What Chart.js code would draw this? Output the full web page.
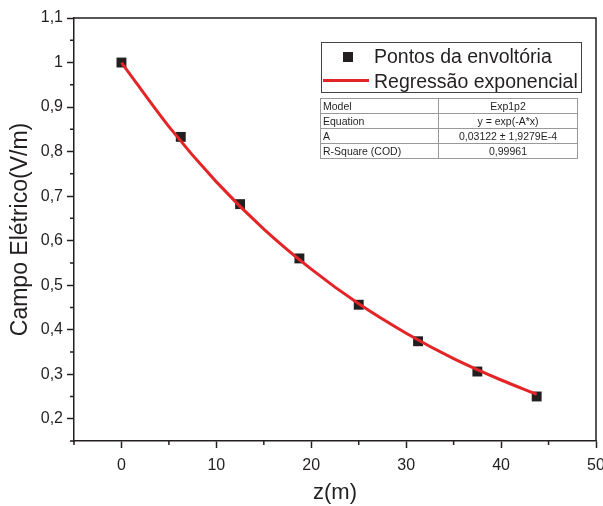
<!DOCTYPE html>
<html>
<head>
<meta charset="utf-8">
<script src="https://cdn.jsdelivr.net/npm/chart.js@4.4.1/dist/chart.umd.min.js"></script>
<style>
  html, body { margin: 0; padding: 0; background: #fff; }
  #wrap { position: relative; width: 603px; height: 506px; overflow: hidden; }
  #c { position: absolute; left: 0; top: 0; }
  #legend { position: absolute; left: 321px; top: 42px; width: 259px; height: 49px; border: 1px solid #444;
            font-family: "Liberation Sans", Arial, sans-serif; font-size: 19.5px; color: #231f20; background: #fff; }
  #legend .row { position: absolute; left: 52px; white-space: nowrap; line-height: 20px; }
  #legend .sq { position: absolute; left: 21px; top: 9px; width: 10px; height: 10px; background: #231f20; }
  #legend .ln { position: absolute; left: 1px; top: 36px; width: 46px; height: 3px; background: #e42528; }
  #tbl { position: absolute; left: 320px; top: 98px; border-collapse: collapse; background: #fff;
         font-family: "Liberation Sans", Arial, sans-serif; font-size: 10.5px; color: #231f20; }
  #tbl td { border: 1px solid #999; height: 14px; padding: 0 2px; line-height: 13px; white-space: nowrap; }
  #tbl td.k { width: 113px; text-align: left; }
  #tbl td.v { width: 134px; text-align: center; }
</style>
</head>
<body>
<div id="wrap">
  <canvas id="c" width="603" height="506"></canvas>
  <div id="legend">
    <div class="sq"></div>
    <div class="row" style="top:3px;">Pontos da envoltória</div>
    <div class="ln"></div>
    <div class="row" style="top:28px;">Regressão exponencial</div>
  </div>
  <table id="tbl"></table>
</div>
<script>
// ---- data ----
const zPoints = [0, 6.25, 12.5, 18.75, 25, 31.25, 37.5, 43.75];
const ePoints = [1.0, 0.833, 0.682, 0.560, 0.456, 0.374, 0.306, 0.250];

// regression curve
const zCurve = [0, 5, 10, 15, 20, 25, 30, 35, 40, 43.75];
const eCurve = [1.0, 0.856, 0.732, 0.626, 0.536, 0.458, 0.392, 0.335, 0.287, 0.255];

const seriesNames = ["Pontos da envoltória", "Regressão exponencial"];
const tableKeys = ["Model", "Equation", "A", "R-Square (COD)"];
const tableVals = ["Exp1p2", "y = exp(-A*x)", "0,03122 ± 1,9279E-4", "0,99961"];

const xTitle = "z(m)";
const yTitle = "Campo Elétrico(V/m)";

// ---- table ----
const tbl = document.getElementById('tbl');
tableKeys.forEach((k, i) => {
  const tr = document.createElement('tr');
  const a = document.createElement('td'); a.className = 'k'; a.textContent = k;
  const b = document.createElement('td'); b.className = 'v'; b.textContent = tableVals[i];
  tr.appendChild(a); tr.appendChild(b); tbl.appendChild(tr);
});

const INK = '#231f20';
const RED = '#e42528';

function isMajorY(v) { return Math.abs(v * 10 - Math.round(v * 10)) < 1e-6; }
function isMajorX(v) { return Math.abs(v / 10 - Math.round(v / 10)) < 1e-6; }
function fmt(v) { return String(Math.round(v * 10) / 10).replace('.', ','); }

const frame = {
  id: 'frame',
  afterDraw(chart) {
    const { ctx, chartArea: a } = chart;
    ctx.save();
    ctx.strokeStyle = INK;
    ctx.lineWidth = 1.5;
    ctx.beginPath();
    ctx.moveTo(a.left, a.top); ctx.lineTo(a.right, a.top); ctx.lineTo(a.right, a.bottom);
    ctx.stroke();
    // minor ticks
    const xs = chart.scales.x, ys = chart.scales.y;
    ctx.beginPath();
    xs.ticks.forEach(t => {
      if (!isMajorX(t.value)) {
        const px = xs.getPixelForValue(t.value);
        ctx.moveTo(px, a.bottom); ctx.lineTo(px, a.bottom + 4);
      }
    });
    ys.ticks.forEach(t => {
      if (!isMajorY(t.value)) {
        const py = ys.getPixelForValue(t.value);
        ctx.moveTo(a.left, py); ctx.lineTo(a.left - 4, py);
      }
    });
    ctx.stroke();
    ctx.restore();
  }
};

new Chart(document.getElementById('c'), {
  type: 'scatter',
  data: {
    datasets: [
      {
        label: seriesNames[1],
        data: zCurve.map((z, i) => ({ x: z, y: eCurve[i] })),
        showLine: true,
        borderColor: RED,
        borderWidth: 3,
        pointRadius: 0,
        cubicInterpolationMode: 'monotone',
        fill: false
      },
      {
        label: seriesNames[0],
        data: zPoints.map((z, i) => ({ x: z, y: ePoints[i] })),
        pointStyle: 'rect',
        pointRadius: 7,
        backgroundColor: INK,
        borderWidth: 0,
        showLine: false
      }
    ]
  },
  options: {
    responsive: false,
    animation: false,
    layout: { padding: { top: 18, right: 6, left: 0, bottom: 0 } },
    plugins: { legend: { display: false }, tooltip: { enabled: false } },
    scales: {
      x: {
        type: 'linear', min: -5, max: 50,
        ticks: {
          stepSize: 5, color: INK, padding: 8,
          font: { family: '"Liberation Sans", Arial, sans-serif', size: 16 },
          callback: v => isMajorX(v) ? String(Math.round(v)) : '',
          maxRotation: 0, autoSkip: false
        },
        grid: {
          drawOnChartArea: false, drawTicks: true, tickLength: 7, tickWidth: 1.5,
          tickColor: c => isMajorX(c.tick.value) ? INK : 'rgba(0,0,0,0)'
        },
        border: { display: true, color: INK, width: 1.5 },
        title: {
          display: true, text: xTitle, color: INK,
          font: { family: '"Liberation Sans", Arial, sans-serif', size: 22, lineHeight: 1.2 },
          padding: { top: 0, bottom: 0 }
        },
        afterFit: s => { s.height = 65; s.paddingLeft = 0; s.paddingRight = 0; }
      },
      y: {
        type: 'linear', min: 0.15, max: 1.1,
        ticks: {
          stepSize: 0.05, color: INK, padding: 4,
          font: { family: '"Liberation Sans", Arial, sans-serif', size: 16 },
          callback: v => isMajorY(v) ? fmt(v) : '',
          autoSkip: false
        },
        grid: {
          drawOnChartArea: false, drawTicks: true, tickLength: 7, tickWidth: 1.5,
          tickColor: c => isMajorY(c.tick.value) ? INK : 'rgba(0,0,0,0)'
        },
        border: { display: true, color: INK, width: 1.5 },
        title: {
          display: true, text: yTitle, color: INK,
          font: { family: '"Liberation Sans", Arial, sans-serif', size: 23, lineHeight: 1.2 },
          padding: { top: 7, bottom: 0 }
        },
        afterFit: s => { s.width = 74; s.paddingTop = 0; s.paddingBottom = 0; }
      }
    }
  },
  plugins: [frame]
});
</script>
</body>
</html>
